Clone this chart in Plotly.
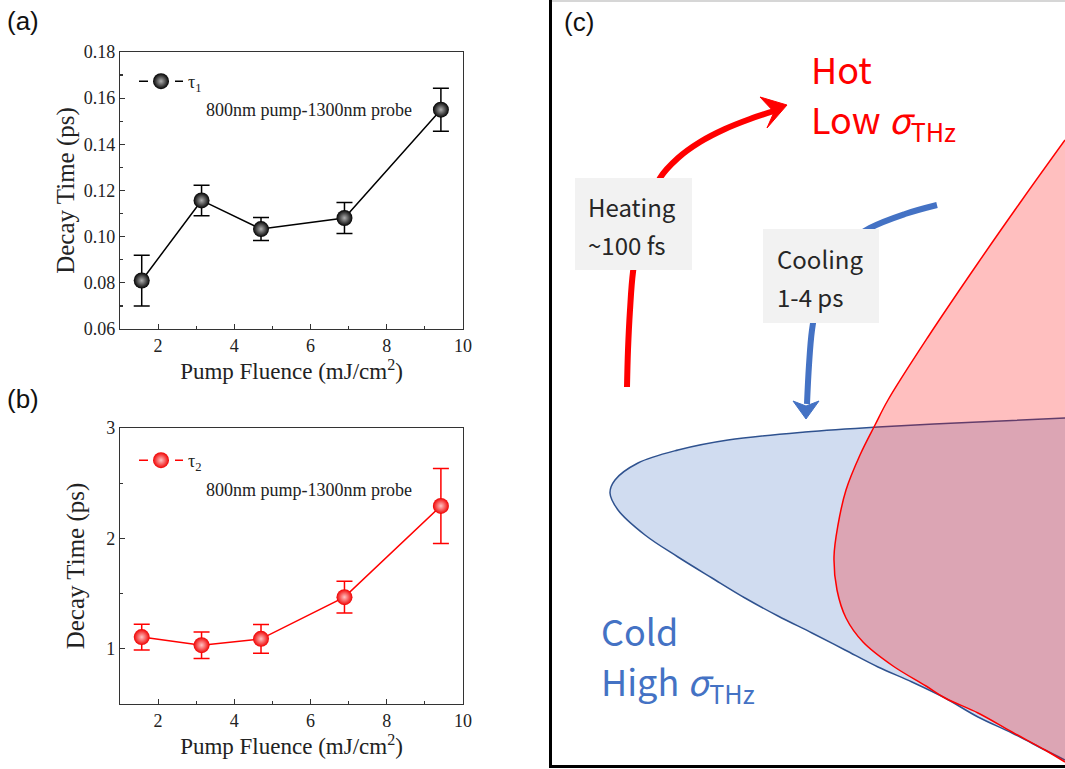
import plotly.graph_objects as go

# ---------------- data ----------------
fluence = [1.57, 3.14, 4.70, 6.89, 9.42]
tau1 = [0.081, 0.1157, 0.1033, 0.1081, 0.155]
tau1_err = [0.011, 0.0066, 0.005, 0.0067, 0.0093]
tau2 = [1.106, 1.033, 1.09, 1.468, 2.294]
tau2_err = [0.116, 0.12, 0.13, 0.143, 0.34]

x_ticks = [2, 4, 6, 8, 10]
y1_ticks = [0.06, 0.08, 0.10, 0.12, 0.14, 0.16, 0.18]
y1_labels = ["0.06", "0.08", "0.10", "0.12", "0.14", "0.16", "0.18"]
y2_ticks = [1, 2, 3]

# schematic (panel c) outlines (pixel-like coordinates)
cold_x = [1065, 978, 878, 805, 728, 678, 638, 615, 610, 618, 645, 678, 712, 745, 778, 812, 845, 878, 912, 945, 978, 1012, 1045, 1065]
cold_y = [418, 422, 427, 432, 440, 450, 463, 480, 493, 510, 535, 557, 578, 598, 616, 633, 650, 667, 682, 698, 717, 733, 750, 760]
hot_x = [1065, 1022, 978, 928, 888, 875, 860, 846, 838, 834, 837, 846, 863, 893, 926, 945, 978, 1012, 1045, 1065]
hot_y = [140, 200, 263, 337, 400, 425, 455, 490, 525, 557, 590, 618, 642, 666, 686, 698, 713, 732, 750, 762]
heat_x = [627, 628, 630, 633, 640, 650, 660, 678, 700, 725, 750, 774]
heat_y = [387, 350, 310, 272, 232, 203, 178, 158, 142, 129, 119, 111]
heat_head_x = [787, 760, 774, 767, 787]
heat_head_y = [105, 97, 112, 128, 105]
cool_x = [937, 905, 870, 845, 828, 818, 812, 809, 807]
cool_y = [205, 214, 228, 246, 270, 298, 330, 365, 404]
cool_head_x = [806, 793, 806, 819, 806]
cool_head_y = [419, 401, 406, 401, 419]

W, H = 1065, 769
SERIF = "Liberation Serif"
SANS = "Noto Sans CJK SC"

fig = go.Figure()

black_marker = dict(size=16, color="black", gradient=dict(type="radial", color="#b0b0b0"), line=dict(width=0))
red_marker = dict(size=16, color="#f00000", gradient=dict(type="radial", color="#ffc4c4"), line=dict(width=0))

# ---------------- panel (a) ----------------
fig.add_trace(go.Scatter(
    x=fluence, y=tau1, mode="lines+markers", xaxis="x", yaxis="y",
    line=dict(color="black", width=1.5), marker=black_marker,
    error_y=dict(type="data", array=tau1_err, color="black", thickness=1.5, width=8),
    showlegend=False))
fig.add_trace(go.Scatter(
    x=[None], y=[None], mode="lines+markers", name="τ<sub>1</sub>", legend="legend",
    line=dict(color="black", width=1.5, dash="dash"), marker=black_marker))

# ---------------- panel (b) ----------------
fig.add_trace(go.Scatter(
    x=fluence, y=tau2, mode="lines+markers", xaxis="x2", yaxis="y2",
    line=dict(color="#ff0000", width=1.5), marker=red_marker,
    error_y=dict(type="data", array=tau2_err, color="#ff0000", thickness=1.5, width=8),
    showlegend=False))
fig.add_trace(go.Scatter(
    x=[None], y=[None], mode="lines+markers", name="τ<sub>2</sub>", legend="legend2",
    line=dict(color="#ff0000", width=1.5, dash="dash"), marker=red_marker))

# ---------------- panel (c) ----------------
fig.add_trace(go.Scatter(x=cold_x, y=cold_y, xaxis="x3", yaxis="y3", mode="lines",
                         fill="toself", fillcolor="rgba(68,114,196,0.25)", line=dict(width=0, shape="spline"),
                         hoverinfo="skip", showlegend=False))
fig.add_trace(go.Scatter(x=cold_x, y=cold_y, xaxis="x3", yaxis="y3", mode="lines",
                         line=dict(color="#2F528F", width=1.5, shape="spline"), hoverinfo="skip", showlegend=False))
fig.add_trace(go.Scatter(x=hot_x, y=hot_y, xaxis="x3", yaxis="y3", mode="lines",
                         fill="toself", fillcolor="rgba(255,0,0,0.25)", line=dict(width=0, shape="spline"),
                         hoverinfo="skip", showlegend=False))
fig.add_trace(go.Scatter(x=hot_x, y=hot_y, xaxis="x3", yaxis="y3", mode="lines",
                         line=dict(color="#ff0000", width=1.5, shape="spline"), hoverinfo="skip", showlegend=False))
# arrows
fig.add_trace(go.Scatter(x=heat_x, y=heat_y, xaxis="x3", yaxis="y3", mode="lines",
                         line=dict(color="#ff0000", width=6, shape="spline"), hoverinfo="skip", showlegend=False))
fig.add_trace(go.Scatter(x=heat_head_x, y=heat_head_y, xaxis="x3", yaxis="y3", mode="lines",
                         fill="toself", fillcolor="#ff0000", line=dict(color="#ff0000", width=1),
                         hoverinfo="skip", showlegend=False))
fig.add_trace(go.Scatter(x=cool_x, y=cool_y, xaxis="x3", yaxis="y3", mode="lines",
                         line=dict(color="#4472C4", width=6, shape="spline"), hoverinfo="skip", showlegend=False))
fig.add_trace(go.Scatter(x=cool_head_x, y=cool_head_y, xaxis="x3", yaxis="y3", mode="lines",
                         fill="toself", fillcolor="#4472C4", line=dict(color="#4472C4", width=1),
                         hoverinfo="skip", showlegend=False))

# ---------------- axes ----------------
def px_x(a, b):
    return [a / W, b / W]

def px_y(top, bottom):
    return [1 - bottom / H, 1 - top / H]

common_ax = dict(showgrid=False, zeroline=False, showline=True, linecolor="#333", linewidth=1.2,
                 mirror=True, ticks="inside", ticklen=5, tickwidth=1.2, tickcolor="#333", automargin=False,
                 tickfont=dict(family=SERIF, size=18, color="#222"))
xtitle_font = dict(family=SERIF, size=23, color="#222")
ytitle_font = dict(family=SERIF, size=25, color="#222")

fig.update_layout(
    template="none",
    width=W, height=H, autosize=False,
    margin=dict(l=0, r=0, t=0, b=0, pad=0, autoexpand=False),
    paper_bgcolor="white", plot_bgcolor="white",
    xaxis=dict(domain=px_x(120, 463), range=[1, 10], anchor="y", tickvals=x_ticks,
               minor=dict(ticks="inside", ticklen=3, dtick=1, tickcolor="#333"),
               title=dict(text="Pump Fluence (mJ/cm<sup>2</sup>)", font=xtitle_font, standoff=3),
               **common_ax),
    yaxis=dict(domain=px_y(52, 329), range=[0.06, 0.18], anchor="x", tickvals=y1_ticks, ticktext=y1_labels,
               minor=dict(ticks="inside", ticklen=3, dtick=0.01, tickcolor="#333"),
               title=dict(text="Decay Time (ps)", font=ytitle_font, standoff=2),
               **common_ax),
    xaxis2=dict(domain=px_x(120, 463), range=[1, 10], anchor="y2", tickvals=x_ticks,
                minor=dict(ticks="inside", ticklen=3, dtick=1, tickcolor="#333"),
                title=dict(text="Pump Fluence (mJ/cm<sup>2</sup>)", font=xtitle_font, standoff=3),
                **common_ax),
    yaxis2=dict(domain=px_y(428, 704), range=[0.5, 3], anchor="x2", tickvals=y2_ticks,
                minor=dict(ticks="inside", ticklen=3, dtick=0.5, tickcolor="#333"),
                title=dict(text="Decay Time (ps)", font=ytitle_font, standoff=14),
                **common_ax),
    xaxis3=dict(domain=px_x(552, 1065), range=[552, 1065], anchor="y3", showgrid=False, zeroline=False,
                showticklabels=False, ticks="", showline=True, linecolor="black", linewidth=3, automargin=False),
    yaxis3=dict(domain=px_y(0, 765), range=[765, 0], anchor="x3", showgrid=False, zeroline=False,
                showticklabels=False, ticks="", showline=True, linecolor="black", linewidth=3, automargin=False),
    legend=dict(x=134 / W, y=1 - 63 / H, xanchor="left", yanchor="top", bgcolor="rgba(0,0,0,0)",
                font=dict(family=SERIF, size=18, color="#222"), itemwidth=44, borderwidth=0),
    legend2=dict(x=134 / W, y=1 - 442 / H, xanchor="left", yanchor="top", bgcolor="rgba(0,0,0,0)",
                 font=dict(family=SERIF, size=18, color="#222"), itemwidth=44, borderwidth=0),
)

shapes = [
    dict(type="line", xref="paper", yref="paper", x0=552 / W, x1=1, y0=1 - 1 / H, y1=1 - 1 / H,
         line=dict(color="#c8c8c8", width=1.5)),
    dict(type="rect", xref="x3", yref="y3", x0=575, x1=692, y0=178, y1=270,
         fillcolor="#F2F2F2", line=dict(width=0), layer="above"),
    dict(type="rect", xref="x3", yref="y3", x0=763, x1=879, y0=229, y1=323,
         fillcolor="#F2F2F2", line=dict(width=0), layer="above"),
]
fig.update_layout(shapes=shapes)

ann = []
def txt(x, y, s, size, color, family=SANS, xref="paper", yref="paper", xanchor="left"):
    ann.append(dict(x=x, y=y, xref=xref, yref=yref, text=s, showarrow=False, xanchor=xanchor,
                    yanchor="middle", align="left", borderpad=0,
                    font=dict(family=family, size=size, color=color)))

txt(6 / W, 1 - 21 / H, "(a)", 26, "#111", family="Liberation Sans")
txt(6 / W, 1 - 399 / H, "(b)", 26, "#111", family="Liberation Sans")
txt(563 / W, 1 - 22 / H, "(c)", 26, "#111", family="Liberation Sans")
txt(309 / W, 1 - 110 / H, "800nm pump-1300nm probe", 18, "#222", family=SERIF, xanchor="center")
txt(309 / W, 1 - 490 / H, "800nm pump-1300nm probe", 18, "#222", family=SERIF, xanchor="center")

txt(810, 68, "Hot", 36, "#ff0000", xref="x3", yref="y3")
txt(810, 120, "Low <i>σ</i><sub>THz</sub>", 36, "#ff0000", xref="x3", yref="y3")
txt(600, 630, "Cold", 36, "#4472C4", xref="x3", yref="y3")
txt(600, 682, "High <i>σ</i><sub>THz</sub>", 36, "#4472C4", xref="x3", yref="y3")
txt(587, 206, "Heating", 24, "#262626", xref="x3", yref="y3")
txt(587, 244, "~100 fs", 24, "#262626", xref="x3", yref="y3")
txt(776, 258, "Cooling", 24, "#262626", xref="x3", yref="y3")
txt(776, 296, "1-4 ps", 24, "#262626", xref="x3", yref="y3")
fig.update_layout(annotations=ann)

reset_css = ("var s=document.createElement('style');"
             "s.textContent='html,body{margin:0!important;padding:0!important;overflow:hidden!important;}"
             ".plotly-graph-div{position:absolute!important;left:0;top:0;}';"
             "document.head.appendChild(s);")

fig.write_html("out.html", config={"staticPlot": True, "displayModeBar": False},
               post_script=reset_css)
